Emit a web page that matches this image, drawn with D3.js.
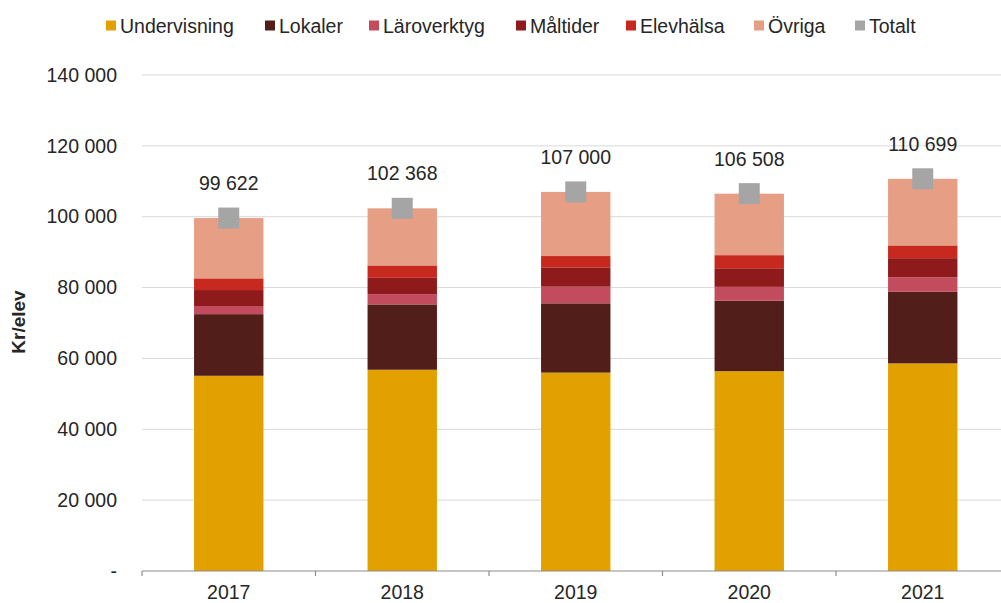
<!DOCTYPE html>
<html>
<head>
<meta charset="utf-8">
<script src="https://cdn.jsdelivr.net/npm/d3@7"></script>
<style>
  body { margin: 0; background: #fff; }
  svg { display: block; font-family: "Liberation Sans", Arial, sans-serif; }
</style>
</head>
<body>
<svg id="chart" width="1001" height="603"></svg>
<script>
// chart data (kr per elev)
const years = ["2017", "2018", "2019", "2020", "2021"];
const undervisning = [55100, 56800, 56000, 56400, 58600];
const lokaler = [17400, 18450, 19550, 19900, 20200];
const laroverktyg = [2300, 2900, 4700, 3900, 4100];
const maltider = [4500, 4600, 5450, 5250, 5400];
const elevhalsa = [3300, 3500, 3200, 3700, 3600];
const ovriga = [17022, 16118, 18100, 17358, 18799];
const totalt = [99622, 102368, 107000, 106508, 110699];
const yTicks = [0, 20000, 40000, 60000, 80000, 100000, 120000, 140000];

const seriesNames = ["Undervisning", "Lokaler", "Läroverktyg", "Måltider", "Elevhälsa", "Övriga"];
const seriesValues = [undervisning, lokaler, laroverktyg, maltider, elevhalsa, ovriga];
const colors = ["#E3A100", "#521E1A", "#C24B5E", "#8E1A1C", "#C8291E", "#E69F85"];
const totalColor = "#A5A5A5";
const textColor = "#262626";

const svg = d3.select("#chart");
const plotLeft = 142, plotRight = 1009.5, plotTop = 75, plotBottom = 571;

const x = d3.scaleBand().domain(years).range([plotLeft, plotRight]).paddingInner(0.6).paddingOuter(0.3);
const xOuter = d3.scaleBand().domain(years).range([plotLeft, plotRight]);
const y = d3.scaleLinear().domain([0, 140000]).range([plotBottom, plotTop]);

const loc = d3.formatLocale({ decimal: ",", thousands: " ", grouping: [3], currency: ["", ""] });
const fmt = loc.format(",d");

// gridlines
svg.append("g")
  .selectAll("line")
  .data(yTicks.filter(d => d > 0))
  .join("line")
  .attr("x1", plotLeft).attr("x2", 1001)
  .attr("y1", d => y(d)).attr("y2", d => y(d))
  .attr("stroke", "#D9D9D9").attr("stroke-width", 1);

// y tick labels
const yAxis = d3.axisLeft(y).tickValues(yTicks).tickSize(0).tickPadding(25)
  .tickFormat(d => d === 0 ? "-" : fmt(d));
const gy = svg.append("g").attr("transform", `translate(${plotLeft},0)`).call(yAxis);
gy.select(".domain").remove();
gy.selectAll("text").attr("font-size", 19.5).attr("fill", textColor).attr("font-family", "Liberation Sans, Arial, sans-serif");

// stacked bars
const rows = years.map((yr, i) => {
  const r = { year: yr };
  seriesNames.forEach((n, k) => r[n] = seriesValues[k][i]);
  return r;
});
const stacked = d3.stack().keys(seriesNames)(rows);

svg.append("g")
  .selectAll("g")
  .data(stacked)
  .join("g")
  .attr("fill", (d, i) => colors[i])
  .selectAll("rect")
  .data(d => d)
  .join("rect")
  .attr("x", d => x(d.data.year))
  .attr("width", x.bandwidth())
  .attr("y", d => y(d[1]))
  .attr("height", d => y(d[0]) - y(d[1]));

// x axis
const gx = svg.append("g").attr("transform", `translate(0,${plotBottom})`);
gx.append("line").attr("x1", plotLeft).attr("x2", 1001).attr("y1", 0).attr("y2", 0)
  .attr("stroke", "#8C8C8C").attr("stroke-width", 1.2);
gx.selectAll("line.tk")
  .data(years)
  .join("line")
  .attr("class", "tk")
  .attr("x1", d => xOuter(d)).attr("x2", d => xOuter(d))
  .attr("y1", 0).attr("y2", 5)
  .attr("stroke", "#8C8C8C").attr("stroke-width", 1.2);
gx.selectAll("text")
  .data(years)
  .join("text")
  .attr("x", d => xOuter(d) + xOuter.bandwidth() / 2)
  .attr("y", 28)
  .attr("text-anchor", "middle")
  .attr("font-size", 19.5)
  .attr("fill", textColor)
  .text(d => d);

// totals markers and labels
const mk = 21;
svg.append("g")
  .selectAll("rect")
  .data(totalt)
  .join("rect")
  .attr("x", (d, i) => x(years[i]) + x.bandwidth() / 2 - mk / 2)
  .attr("y", d => y(d) - mk / 2)
  .attr("width", mk).attr("height", mk)
  .attr("fill", totalColor);

svg.append("g")
  .selectAll("text")
  .data(totalt)
  .join("text")
  .attr("x", (d, i) => x(years[i]) + x.bandwidth() / 2)
  .attr("y", d => y(d) - 28)
  .attr("text-anchor", "middle")
  .attr("font-size", 19.5)
  .attr("fill", textColor)
  .text(d => fmt(d));

// y axis title
svg.append("text")
  .attr("transform", "translate(25,322) rotate(-90)")
  .attr("text-anchor", "middle")
  .attr("font-size", 19)
  .attr("font-weight", "bold")
  .attr("fill", textColor)
  .text("Kr/elev");

// legend
const legendItems = seriesNames.map((n, i) => ({ name: n, color: colors[i] }))
  .concat([{ name: "Totalt", color: totalColor }]);
const legendX = [106, 265, 369, 516, 626, 754, 855];
const lg = svg.append("g");
legendItems.forEach((it, i) => {
  lg.append("rect")
    .attr("x", legendX[i]).attr("y", 20.5)
    .attr("width", 10).attr("height", 10)
    .attr("fill", it.color);
  lg.append("text")
    .attr("x", legendX[i] + 14).attr("y", 33)
    .attr("font-size", 19.5)
    .attr("fill", textColor)
    .text(it.name);
});
</script>
</body>
</html>
